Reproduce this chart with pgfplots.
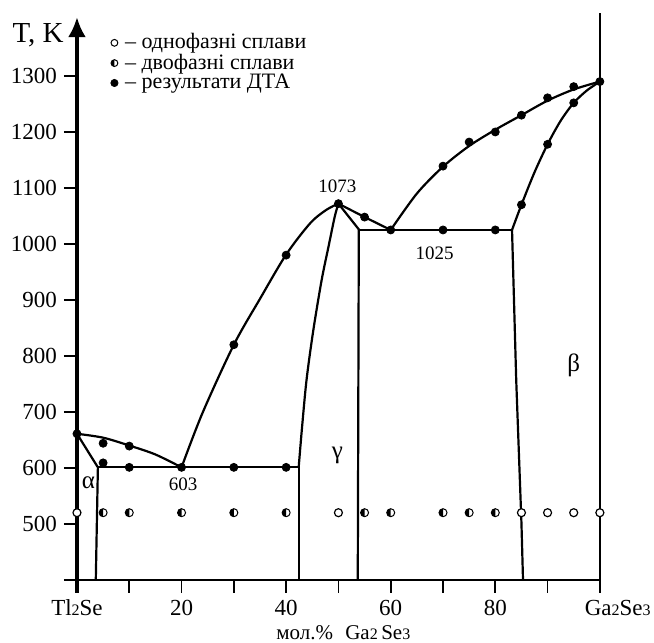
\documentclass[border=0pt]{standalone}
\usepackage{fontspec}
\setmainfont{Liberation Serif}
\usepackage{pgfplots}
\pgfplotsset{compat=1.18}
\usetikzlibrary{arrows.meta}

% half-filled circle: left half black
\pgfdeclareplotmark{halfcirc}{%
  \pgfpathcircle{\pgfpointorigin}{\pgfplotmarksize}%
  \pgfusepathqfillstroke
  \begin{pgfscope}%
  \pgfsetfillcolor{black}%
  \pgfpathmoveto{\pgfpoint{0pt}{\pgfplotmarksize}}%
  \pgfpatharc{90}{270}{\pgfplotmarksize}%
  \pgfpathclose
  \pgfusepathqfill
  \end{pgfscope}%
}
\newcommand{\sub}[1]{{\fontsize{8pt}{9pt}\selectfont #1}}

\begin{document}
\begin{tikzpicture}
\begin{axis}[
  x=2.615pt, y=0.28pt,
  xmin=0, xmax=100, ymin=400, ymax=1405,
  clip=false,
  axis x line*=bottom, axis y line*=left,
  x axis line style={line width=1pt},
  y axis line style={line width=1.7pt, -{Latex[length=10pt,width=9pt]}},
  tick align=outside,
  major tick length=6.5pt,
  tick style={black, line width=0.8pt},
  xtick={0,10,...,100},
  xticklabels={Tl\sub{2}Se,,20,,40,,60,,80,,\rlap{\hspace{-7.5pt}Ga\sub{2}Se\sub{3}}},
  ytick={400,500,...,1300},
  yticklabels={,500,600,700,800,900,1000,1100,1200,1300},
  tick label style={font=\fontsize{11.5pt}{13pt}\selectfont},
  legend style={at={(axis cs:6.4,1378)}, anchor=north west, draw=none, fill=none,
    font=\fontsize{11pt}{11pt}\selectfont, row sep=0pt, inner sep=0pt,
    nodes={inner sep=0.5pt}},
  legend cell align=left,
  legend image code/.code={\draw[#1] plot coordinates {(0pt,0pt)};},
  pl/.style={black, line width=1.1pt, line join=round, forget plot},
]
\addlegendimage{black, mark=*, mark size=1.7pt, mark options={fill=white, line width=0.5pt}}
\addlegendentry{\hspace{3pt}– однофазні сплави}
\addlegendimage{black, mark=halfcirc, mark size=1.7pt, mark options={fill=white, line width=0.5pt}}
\addlegendentry{\hspace{3pt}– двофазні сплави}
\addlegendimage{black, mark=*, mark size=1.8pt}
\addlegendentry{\hspace{3pt}– результати ДТА}

% Tl2Se side
\addplot[pl, smooth] coordinates {(0,661)(5,654)(10,640)(15,624)(20,601)};
\addplot[pl] coordinates {(0,661)(4,601)(3.6,400)};
\addplot[pl] coordinates {(4,601)(42.4,601)};
% gamma phase
\addplot[pl] coordinates {(42.4,400)(42.4,601)};
\addplot[pl, smooth] coordinates {(42.4,601)(43,668)(43.9,757)(45.2,846)(46.8,936)(48.1,995)(49.3,1049)(50,1072)};
\addplot[pl, smooth] coordinates {(20,601)(24,698)(30,820)(35,902)(40,981)(44.6,1037)(47.7,1061)(50,1072)};
\addplot[pl] coordinates {(50,1072)(55,1048)(60,1025)};
\addplot[pl] coordinates {(50,1072)(53.9,1026)(53.7,400)};
\addplot[pl] coordinates {(53.9,1025)(83.2,1025)};
% Ga2Se3 side
\addplot[pl, smooth] coordinates {(60,1025)(65,1090)(70,1138)(75,1175)(80,1204)(85,1230)(90,1256)(95,1276)(100,1290)};
\addplot[pl, smooth] coordinates {(83.2,1025)(85,1070)(87.5,1128)(90,1178)(92.5,1220)(95,1252)(97.5,1274)(100,1290)};
\addplot[pl] coordinates {(83.2,1025)(84,757)(85,502)(85.3,400)};
% right border and lower end of the T axis
\addplot[black, line width=1pt, forget plot] coordinates {(100,400)(100,1412)};
\addplot[black, line width=1.7pt, forget plot] coordinates {(0,376.8)(0,400)};

% DTA results
\addplot[only marks, black, mark=*, mark size=2pt, forget plot] coordinates {
  (0,661)(5,644)(5,609)(10,639)(10,601)(20,601)(30,601)(40,601)
  (30,820)(40,980)(50,1072)(55,1048)(60,1025)(70,1025)(80,1025)
  (70,1139)(75,1182)(80,1200)(85,1230)(90,1261)(95,1281)(100,1290)
  (85,1070)(90,1178)(95,1252)};
% two-phase alloys
\addplot[only marks, black, mark=halfcirc, mark size=2pt, mark options={fill=white, line width=0.5pt}, forget plot] coordinates {
  (5,520)(10,520)(20,520)(30,520)(40,520)(55,520)(60,520)(70,520)(75,520)(80,520)};
% single-phase alloys
\addplot[only marks, black, mark=*, mark size=2pt, mark options={fill=white, line width=0.6pt}, forget plot] coordinates {
  (0,520)(50,520)(85,520)(90,520)(95,520)(100,520)};

\node[anchor=base west, inner sep=0pt, font=\fontsize{14.5pt}{16pt}\selectfont] at (axis cs:-12.4,1360) {T, K};
\node[anchor=base, font=\fontsize{9.5pt}{10pt}\selectfont] at (axis cs:49.8,1092) {1073};
\node[anchor=base, font=\fontsize{9.5pt}{10pt}\selectfont] at (axis cs:68.4,973) {1025};
\node[anchor=base, font=\fontsize{9.5pt}{10pt}\selectfont] at (axis cs:20.3,559) {603};
\node[anchor=base, font=\fontsize{12.5pt}{14pt}\selectfont] at (axis cs:2.2,564) {α};
\node[font=\fontsize{12.5pt}{14pt}\selectfont] at (axis cs:49.8,623) {γ};
\node[font=\fontsize{12.5pt}{14pt}\selectfont] at (axis cs:95,784) {β};
\node[anchor=base west, inner sep=0pt, font=\fontsize{10.5pt}{12pt}\selectfont] at (axis cs:38.05,293) {мол.\%\,\, Ga\sub{2}\,Se\sub{3}};

\coordinate (BL) at (axis cs:-14.72,287.5);
\coordinate (TR) at (axis cs:110.35,1435.7);
\end{axis}
\pgfresetboundingbox
\path[use as bounding box] (BL) rectangle (TR);
\end{tikzpicture}
\end{document}
